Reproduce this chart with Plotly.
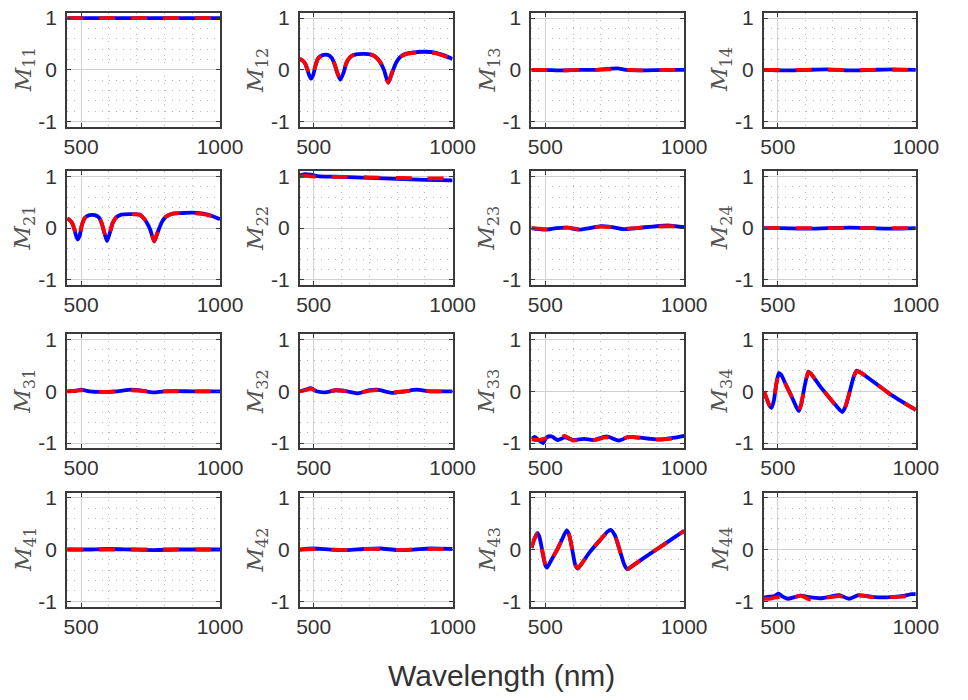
import plotly.graph_objects as go

# ---------------- data ----------------
# M11
wl_m11 = [450, 1000]
m11_blue = [1.0, 1.0]
m11_red = [1.0, 1.0]

# M12
wl_m12 = [450, 460, 470, 478, 485, 491, 498, 506, 516, 530, 550, 565, 575, 585, 596, 607, 617, 630, 645,
          680, 710, 725, 740, 753, 768, 782, 795, 810, 830, 860, 900, 940, 970, 1000]
m12_blue = [0.21, 0.18, 0.11, -0.01, -0.12, -0.17, -0.10, 0.07, 0.22, 0.28, 0.29, 0.23, 0.11, -0.06,
            -0.19, -0.06, 0.12, 0.24, 0.29, 0.31, 0.29, 0.24, 0.14, 0.0, -0.25, -0.06, 0.12, 0.24,
            0.31, 0.34, 0.35, 0.33, 0.28, 0.21]
m12_red = [0.21, 0.18, 0.12, 0.0, -0.11, -0.16, -0.09, 0.08, 0.22, 0.28, 0.29, 0.23, 0.12, -0.05,
           -0.18, -0.05, 0.13, 0.24, 0.29, 0.31, 0.29, 0.24, 0.15, 0.01, -0.24, -0.05, 0.13, 0.24,
           0.30, 0.33, 0.34, 0.32, 0.27, 0.20]

# M13
wl_m13 = [450, 500, 560, 620, 680, 730, 760, 790, 850, 920, 1000]
m13_blue = [0.0, 0.0, -0.01, 0.0, 0.0, 0.02, 0.03, 0.0, -0.01, 0.0, 0.0]
m13_red = [0.0, 0.0, -0.01, 0.0, 0.0, 0.01, 0.02, 0.0, -0.01, 0.0, 0.0]

# M14
wl_m14 = [450, 520, 600, 680, 760, 840, 920, 1000]
m14_blue = [0.0, -0.01, 0.0, 0.01, -0.01, 0.0, 0.01, 0.0]
m14_red = [0.0, 0.0, 0.0, 0.0, 0.0, 0.0, 0.0, 0.0]

# M21
wl_m21 = [450, 460, 468, 476, 482, 488, 495, 503, 514, 530, 550, 565, 574, 583, 593, 604, 614, 627, 645,
          680, 710, 722, 736, 749, 763, 777, 790, 805, 830, 860, 900, 940, 970, 1000]
m21_blue = [0.18, 0.15, 0.09, -0.03, -0.15, -0.22, -0.14, 0.06, 0.20, 0.25, 0.25, 0.20, 0.09, -0.08,
            -0.25, -0.08, 0.10, 0.21, 0.26, 0.27, 0.26, 0.21, 0.11, -0.03, -0.26, -0.06, 0.11, 0.22,
            0.28, 0.29, 0.30, 0.28, 0.24, 0.17]
m21_red = [0.18, 0.15, 0.10, -0.02, -0.14, -0.21, -0.13, 0.07, 0.20, 0.25, 0.25, 0.20, 0.10, -0.07,
           -0.24, -0.07, 0.11, 0.21, 0.26, 0.27, 0.26, 0.21, 0.12, -0.02, -0.25, -0.05, 0.12, 0.22,
           0.28, 0.29, 0.29, 0.27, 0.23, 0.16]

# M22
wl_m22 = [450, 470, 490, 520, 600, 700, 800, 900, 1000]
m22_blue = [1.02, 1.04, 1.03, 1.0, 0.99, 0.97, 0.95, 0.93, 0.92]
m22_red = [1.0, 1.01, 1.0, 0.99, 0.99, 0.98, 0.97, 0.96, 0.96]

# M23
wl_m23 = [450, 480, 500, 540, 580, 620, 660, 700, 740, 780, 830, 900, 950, 1000]
m23_blue = [0.0, -0.02, -0.03, 0.0, 0.01, -0.03, 0.0, 0.04, 0.02, -0.02, 0.0, 0.04, 0.05, 0.02]
m23_red = [0.0, -0.01, -0.02, 0.0, 0.01, -0.02, 0.0, 0.03, 0.02, -0.01, 0.0, 0.03, 0.04, 0.02]

# M24
wl_m24 = [450, 520, 600, 680, 760, 840, 920, 1000]
m24_blue = [0.0, 0.0, -0.01, 0.0, 0.01, 0.0, -0.01, 0.0]
m24_red = [0.0, 0.0, 0.0, 0.0, 0.0, 0.0, 0.0, 0.0]

# M31
wl_m31 = [450, 480, 500, 530, 580, 630, 680, 720, 760, 800, 900, 1000]
m31_blue = [0.0, 0.01, 0.03, 0.0, -0.01, 0.0, 0.03, 0.01, -0.02, 0.0, 0.0, 0.0]
m31_red = [0.0, 0.01, 0.02, 0.0, -0.01, 0.0, 0.02, 0.01, -0.01, 0.0, 0.0, 0.0]

# M32
wl_m32 = [450, 470, 490, 510, 540, 580, 620, 660, 700, 730, 780, 830, 870, 920, 1000]
m32_blue = [0.0, 0.03, 0.06, 0.0, -0.02, 0.02, 0.0, -0.04, 0.02, 0.03, -0.03, 0.0, 0.03, 0.0, 0.0]
m32_red = [0.0, 0.02, 0.05, 0.0, -0.02, 0.02, 0.0, -0.03, 0.01, 0.02, -0.02, 0.0, 0.02, 0.0, 0.0]

# M33
wl_m33 = [450, 462, 478, 492, 505, 522, 545, 570, 600, 640, 675, 720, 765, 800, 850, 880, 920, 960, 1000]
m33_blue = [-0.92, -0.88, -0.95, -1.0, -0.89, -0.87, -0.94, -0.89, -0.94, -0.92, -0.94, -0.87, -0.95,
            -0.88, -0.90, -0.92, -0.93, -0.90, -0.86]
m33_red = [-0.93, -0.94, -0.94, -0.92, -0.91, -0.90, -0.92, -0.86, -0.95, -0.92, -0.94, -0.89, -0.94,
           -0.88, -0.91, -0.93, -0.93, -0.91, -0.88]

# M34
wl_m34 = [450, 460, 470, 477, 485, 495, 504, 512, 530, 550, 565, 576, 585, 598, 611, 620, 650, 680,
          710, 734, 745, 760, 775, 786, 800, 850, 900, 950, 1000]
m34_blue = [0.0, -0.15, -0.28, -0.32, -0.20, 0.15, 0.35, 0.32, 0.12, -0.10, -0.28, -0.38, -0.25, 0.12,
            0.38, 0.34, 0.12, -0.08, -0.27, -0.40, -0.30, -0.02, 0.28, 0.40, 0.36, 0.17, -0.03,
            -0.20, -0.36]
m34_red = [0.0, -0.14, -0.27, -0.31, -0.19, 0.15, 0.34, 0.32, 0.12, -0.10, -0.27, -0.37, -0.24, 0.12,
           0.37, 0.34, 0.12, -0.08, -0.27, -0.39, -0.29, -0.02, 0.28, 0.39, 0.36, 0.17, -0.03,
           -0.20, -0.36]

# M41
wl_m41 = [450, 520, 600, 680, 760, 840, 920, 1000]
m41_blue = [0.0, 0.0, 0.01, 0.0, -0.01, 0.0, 0.0, 0.0]
m41_red = [0.0, 0.0, 0.0, 0.0, 0.0, 0.0, 0.0, 0.0]

# M42
wl_m42 = [450, 500, 560, 620, 680, 740, 800, 860, 920, 1000]
m42_blue = [0.0, 0.02, 0.0, -0.01, 0.01, 0.02, -0.01, 0.0, 0.02, 0.01]
m42_red = [0.0, 0.01, 0.0, -0.01, 0.01, 0.01, -0.01, 0.0, 0.01, 0.01]

# M43
wl_m43 = [450, 460, 472, 480, 490, 500, 506, 520, 545, 565, 577, 585, 597, 608, 617, 630, 660, 700,
          725, 735, 750, 770, 785, 796, 810, 850, 900, 950, 1000]
m43_blue = [0.03, 0.20, 0.32, 0.22, -0.05, -0.30, -0.35, -0.22, 0.02, 0.25, 0.37, 0.30, 0.0, -0.30,
            -0.37, -0.28, -0.05, 0.20, 0.35, 0.38, 0.28, -0.05, -0.30, -0.38, -0.33, -0.18, 0.0,
            0.18, 0.36]
m43_red = [0.03, 0.19, 0.31, 0.22, -0.05, -0.29, -0.34, -0.22, 0.02, 0.25, 0.36, 0.30, 0.0, -0.29,
           -0.36, -0.28, -0.05, 0.20, 0.34, 0.37, 0.28, -0.05, -0.29, -0.37, -0.33, -0.18, 0.0,
           0.18, 0.36]

# M44
wl_m44 = [450, 470, 488, 502, 518, 536, 560, 583, 615, 653, 690, 723, 758, 793, 852, 910, 950, 986, 1000]
m44_blue = [-0.93, -0.91, -0.90, -0.85, -0.91, -0.95, -0.92, -0.89, -0.92, -0.94, -0.91, -0.88, -0.95,
            -0.88, -0.92, -0.92, -0.90, -0.86, -0.86]
m44_red = [-0.95, -0.95, -0.93, -0.92, -0.92, -0.93, -0.92, -0.89, -0.96, -0.94, -0.92, -0.90, -0.94,
           -0.89, -0.92, -0.92, -0.91, -0.89, -0.89]

panel_names = ["11", "12", "13", "14", "21", "22", "23", "24",
               "31", "32", "33", "34", "41", "42", "43", "44"]
panel_data = [
    (wl_m11, m11_blue, m11_red), (wl_m12, m12_blue, m12_red), (wl_m13, m13_blue, m13_red), (wl_m14, m14_blue, m14_red),
    (wl_m21, m21_blue, m21_red), (wl_m22, m22_blue, m22_red), (wl_m23, m23_blue, m23_red), (wl_m24, m24_blue, m24_red),
    (wl_m31, m31_blue, m31_red), (wl_m32, m32_blue, m32_red), (wl_m33, m33_blue, m33_red), (wl_m34, m34_blue, m34_red),
    (wl_m41, m41_blue, m41_red), (wl_m42, m42_blue, m42_red), (wl_m43, m43_blue, m43_red), (wl_m44, m44_blue, m44_red),
]
x_ticks = [500, 1000]
y_ticks = [-1, 0, 1]
x_title = "Wavelength (nm)"

# ---------------- layout ----------------
W, H = 968, 700
cols_px = [(66, 223), (305, 462), (543, 700), (782, 938)]
rows_px = [(7, 123), (168, 284), (334, 450), (495, 611)]

fig = go.Figure()
layout = dict(width=W, height=H, margin=dict(l=0, r=0, t=0, b=0),
              paper_bgcolor="white", plot_bgcolor="white", showlegend=False)
annotations = []

tick_font = dict(family="Liberation Sans, Arial, sans-serif", size=21, color="#333333")

for i, (name, (wl, blue, red)) in enumerate(zip(panel_names, panel_data)):
    r, c = divmod(i, 4)
    k = "" if i == 0 else str(i + 1)
    xa, ya = "x" + k, "y" + k
    fig.add_trace(go.Scatter(x=wl, y=blue, mode="lines", xaxis=xa, yaxis=ya,
                             line=dict(color="#0000ff", width=3.8, shape="spline", smoothing=0.6)))
    fig.add_trace(go.Scatter(x=wl, y=red, mode="lines", xaxis=xa, yaxis=ya,
                             line=dict(color="#ff0000", width=3.8, dash="16px,16px",
                                       shape="spline", smoothing=0.6)))
    l, rr = cols_px[c]
    t, b = rows_px[r]
    common = dict(showline=True, mirror="ticks", linecolor="#3a3a3a", linewidth=2,
                  ticks="inside", ticklen=4, tickcolor="#3a3a3a", tickfont=tick_font,
                  showgrid=True, gridcolor="#d0d0d0", gridwidth=1, zeroline=False,
                  fixedrange=True)
    layout["xaxis" + k] = dict(common, domain=[l / W, rr / W], anchor=ya, range=[450, 1000],
                               tickvals=x_ticks, ticktext=[str(v) for v in x_ticks],
                               ticklabelstandoff=0,
                               minor=dict(dtick=100, tick0=0, showgrid=True, gridcolor="#b8b8b8",
                                          griddash="1px,6px", gridwidth=1, ticks=""))
    layout["yaxis" + k] = dict(common, domain=[1 - b / H, 1 - t / H], anchor=xa, range=[-1.1, 1.1],
                               tickvals=y_ticks, ticktext=[str(v) for v in y_ticks],
                               ticklabelstandoff=4,
                               minor=dict(dtick=0.2, tick0=0, showgrid=True, gridcolor="#b8b8b8",
                                          griddash="1px,6px", gridwidth=1, ticks=""))
    annotations.append(dict(text="<i>M</i><sub>%s</sub>" % name, x=(l - 44) / W, y=1 - ((t + b) / 2) / H,
                            xref="paper", yref="paper", showarrow=False, textangle=-90,
                            xanchor="center", yanchor="middle",
                            font=dict(family="DejaVu Serif, Liberation Serif, serif", size=23,
                                      color="#555555")))

annotations.append(dict(text=x_title, x=512 / W, y=1 - 681 / H, xref="paper", yref="paper",
                        showarrow=False, xanchor="center", yanchor="middle",
                        font=dict(family="Liberation Sans, Arial, sans-serif", size=30, color="#333333")))
layout["annotations"] = annotations
fig.update_layout(**layout)
fig.write_html("out.html")
